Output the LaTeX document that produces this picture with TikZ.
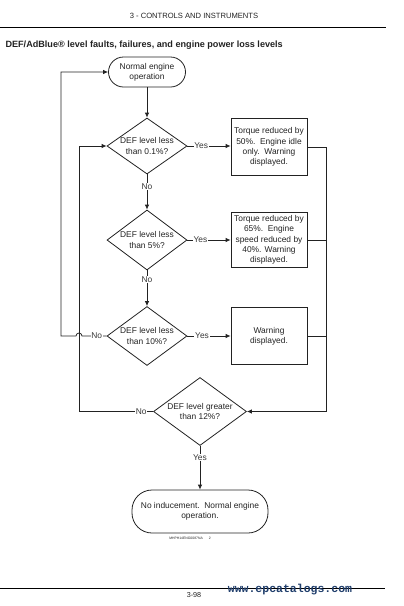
\documentclass[tikz,border=0pt]{standalone}
\usepackage{fontspec}
\setmainfont{Liberation Sans}
\newfontfamily\wmfont{Liberation Mono}
\usetikzlibrary{shapes.geometric,arrows.meta,calc}
\definecolor{ink}{HTML}{222222}
\definecolor{wm}{HTML}{1F3D6B}
\begin{document}
\begin{tikzpicture}[x=1pt,y=-1pt,
  every node/.style={font=\fontsize{8.4}{10.2}\selectfont, text=ink},
  dec/.style={diamond, draw=ink, line width=0.8pt, inner sep=-6pt, align=center},
  act/.style={rectangle, draw=ink, line width=0.8pt, minimum width=76pt, align=center, inner sep=0pt},
  term/.style={rectangle, draw=ink, line width=0.8pt, align=center, inner sep=0pt},
  conn/.style={draw=ink, line width=0.8pt},
  arr/.style={conn, -{Latex[length=5pt,width=4.5pt]}},
  lab/.style={fill=white, inner sep=0.8pt, text=ink!90}
]
\useasboundingbox (0,0) rectangle (404,606);

% page header / footer
\node (hdr) at (194,15.5) {\fontsize{7.6}{9}\selectfont 3 - CONTROLS AND INSTRUMENTS};
\coordinate (hl) at (0,27); \coordinate (hr) at (386,27);
\draw[line width=0.8pt] (hl) -- (hr);
\node[anchor=west] (title) at (2,45) {\fontsize{9.1}{11}\selectfont\bfseries DEF/AdBlue® level faults, failures, and engine power loss levels};

% flowchart nodes
\node[term, rounded corners=15pt, minimum width=77pt, minimum height=30pt] (start) at (147,72) {Normal engine\\operation};
\node[dec, minimum width=80pt, minimum height=56pt] (d1) at (147,146) {DEF level less\\than 0.1\%?};
\node[act, minimum height=57pt] (b1) at (269,147) {Torque reduced by\\50\%.\ \ Engine idle\\only.\ \ Warning\\displayed.};
\node[dec, minimum width=80pt, minimum height=60pt] (d2) at (147,240) {DEF level less\\than 5\%?};
\node[act, minimum height=55pt] (b2) at (269,240) {Torque reduced by\\65\%.\ \ Engine\\speed reduced by\\40\%. Warning\\displayed.};
\node[dec, minimum width=80pt, minimum height=59pt] (d3) at (147,336) {DEF level less\\than 10\%?};
\node[act, minimum height=57pt] (b3) at (269,336) {Warning\\displayed.};
\node[dec, minimum width=93pt, minimum height=68pt] (d4) at (200,411.5) {DEF level greater\\than 12\%?};
\node[term, rounded corners=20pt, minimum width=136pt, minimum height=43pt] (end) at (200,511.5) {No inducement.\ \ Normal engine\\operation.};
\node (code) at (190,538) {\fontsize{3.4}{4}\selectfont MHPH14ENG0087NA\hspace{6pt}2};

% connector guide coordinates
\coordinate (rx) at (326,0);
\coordinate (lx1) at (79,0);
\coordinate (lx2) at (61,0);

% connectors
\draw[arr] (start) -- (d1);
\draw[arr] (d1.east) -- node[lab,pos=0.32]{Yes} (d1.east -| b1.west);
\draw[arr] (d1.south) -- node[lab,pos=0.35]{No} (d2.north);
\draw[arr] (d2.east) -- node[lab,pos=0.3]{Yes} (d2.east -| b2.west);
\draw[arr] (d2.south) -- node[lab,pos=0.25]{No} (d3.north);
\draw[arr] (d3.east) -- node[lab,pos=0.34]{Yes} (d3.east -| b3.west);

\draw[arr] (b1.east) -- (b1.east -| rx) -- (rx |- d4.east) -- (d4.east);
\draw[conn] (b2.east) -- (b2.east -| rx);
\draw[conn] (b3.east) -- (b3.east -| rx);

\draw[arr] (d4.west) -- node[lab,pos=0.16]{No} (d4.west -| lx1) -- (lx1 |- d1.west) -- (d1.west);
\draw[arr] (d3.west) -- node[lab,pos=0.4]{No} ($(d3.west -| lx1)+(3,0)$)
   arc[start angle=0, end angle=180, radius=3pt] -- (lx2 |- d3.west) -- (lx2 |- start.west) -- (start.west);

\draw[arr] (d4.south) -- node[lab,pos=0.26]{Yes} (end.north);

% footer
\coordinate (fl) at (0,588); \coordinate (fr) at (385,588);
\draw[line width=0.8pt] (fl) -- (fr);
\node (page) at (194,595.5) {\fontsize{7.2}{8}\selectfont 3-98};
\node[text=wm] (wmark) at (290,589.5) {\fontsize{11.5}{12}\selectfont\wmfont\bfseries www.epcatalogs.com};
\end{tikzpicture}
\end{document}
